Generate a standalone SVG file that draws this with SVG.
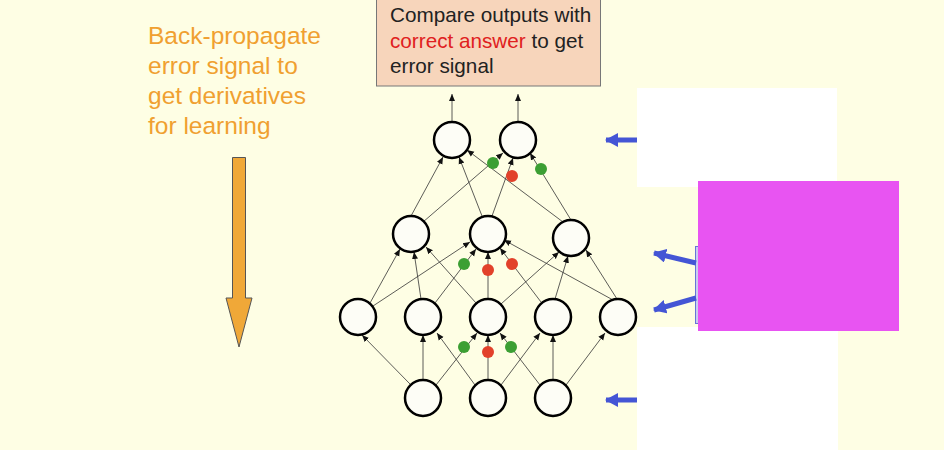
<svg xmlns="http://www.w3.org/2000/svg" width="944" height="450" viewBox="0 0 944 450">
<defs>
<marker id="ah" markerWidth="8" markerHeight="8" refX="7" refY="4" orient="auto" markerUnits="userSpaceOnUse"><path d="M0,1 L7,4 L0,7 z" fill="#111"/></marker>
<marker id="bh" markerWidth="14" markerHeight="14" refX="12" refY="7" orient="auto" markerUnits="userSpaceOnUse"><path d="M0,0 L13,7 L0,14 z" fill="#4455d5"/></marker>
</defs>
<style>
.n{fill:#fdfdf6;stroke:#000;stroke-width:2.5}
.e{stroke:#333;stroke-width:0.8;fill:none;marker-end:url(#ah)}
.g{fill:#3c9f33}.r{fill:#e2412a}
.b{stroke:#4455d5;stroke-width:5;fill:none;marker-end:url(#bh)}
.t{font-family:"Liberation Sans",Arial,sans-serif}
</style>
<rect width="944" height="450" fill="#fefee4"/>
<rect x="637" y="88" width="200" height="99" fill="#fff"/>
<rect x="637" y="327" width="201" height="123" fill="#fff"/>
<rect x="695.500" y="246.500" width="6" height="77" fill="#c8cdf0" stroke="#6674d8"/>
<rect x="698" y="181" width="201" height="150" fill="#e854f2"/>
<g id="box"><rect x="376.500" y="-1" width="224" height="87" fill="#f7d5bb" stroke="#777"/>
<text class="t" font-size="20.7" fill="#222"><tspan x="390" y="22">Compare outputs with</tspan><tspan x="390" y="48"><tspan fill="#e02020">correct answer</tspan> to get</tspan><tspan x="390" y="73">error signal</tspan></text></g>
<g id="label"><text class="t" font-size="24.5" fill="#f0a030"><tspan x="148" y="44">Back-propagate</tspan><tspan x="148" y="74">error signal to</tspan><tspan x="148" y="104">get derivatives</tspan><tspan x="148" y="134">for learning</tspan></text>
<path d="M232.500,157.500 H245.500 V298 H252 L239,347 L226,298 H232.500 Z" fill="#f0a838" stroke="#555"/></g>
<g id="connectors">
<line class="e" x1="452" y1="122" x2="452" y2="94"/><line class="e" x1="518" y1="122" x2="518" y2="94"/>
<line class="e" x1="411" y1="216" x2="443" y2="157"/><line class="e" x1="423" y1="222" x2="503" y2="153"/>
<line class="e" x1="482" y1="216" x2="459" y2="157"/><line class="e" x1="492" y1="216" x2="513" y2="158"/>
<line class="e" x1="563" y1="222" x2="467" y2="150"/><line class="e" x1="571" y1="220" x2="530" y2="153"/>
<line class="e" x1="370" y1="303" x2="400" y2="249"/><line class="e" x1="373" y1="306" x2="470" y2="242"/>
<line class="e" x1="421" y1="299" x2="414" y2="252"/><line class="e" x1="435" y1="303" x2="476" y2="249"/>
<line class="e" x1="476" y1="303" x2="426" y2="247"/><line class="e" x1="488" y1="299" x2="488" y2="252"/><line class="e" x1="501" y1="304" x2="559" y2="252"/>
<line class="e" x1="541" y1="302" x2="500" y2="248"/><line class="e" x1="555" y1="299" x2="568" y2="256"/>
<line class="e" x1="613" y1="300" x2="504" y2="240"/><line class="e" x1="617" y1="299" x2="586" y2="250"/>
<line class="e" x1="410" y1="384" x2="362" y2="335"/><line class="e" x1="423" y1="380" x2="423" y2="335"/><line class="e" x1="436" y1="385" x2="477" y2="333"/>
<line class="e" x1="475" y1="385" x2="437" y2="333"/><line class="e" x1="488" y1="380" x2="488" y2="335"/><line class="e" x1="501" y1="385" x2="540" y2="333"/>
<line class="e" x1="540" y1="385" x2="500" y2="333"/><line class="e" x1="553" y1="380" x2="553" y2="335"/><line class="e" x1="566" y1="385" x2="605" y2="333"/>
<line class="b" x1="637" y1="140" x2="606" y2="140"/><line class="b" x1="637" y1="400" x2="606" y2="400"/>
<line class="b" x1="696" y1="263" x2="654" y2="253"/><line class="b" x1="696" y1="298" x2="654" y2="310"/>
</g>
<g id="dots">
<circle class="g" cx="493" cy="163" r="6"/><circle class="g" cx="541" cy="169" r="6"/><circle class="r" cx="512" cy="176" r="6"/>
<circle class="g" cx="464" cy="264" r="6"/><circle class="r" cx="488" cy="270" r="6"/><circle class="r" cx="512" cy="264" r="6"/>
<circle class="g" cx="464" cy="347" r="6"/><circle class="r" cx="488" cy="352" r="6"/><circle class="g" cx="511" cy="347" r="6"/>
</g>
<g id="o1"><circle class="n" cx="452" cy="140" r="18"/></g><g id="o2"><circle class="n" cx="518" cy="140" r="18"/></g>
<g id="h21"><circle class="n" cx="411" cy="234" r="18"/></g><g id="h22"><circle class="n" cx="488" cy="234" r="18"/></g><g id="h23"><circle class="n" cx="571" cy="238" r="18"/></g>
<g id="h11"><circle class="n" cx="358" cy="317" r="18"/></g><g id="h12"><circle class="n" cx="423" cy="317" r="18"/></g><g id="h13"><circle class="n" cx="488" cy="317" r="18"/></g><g id="h14"><circle class="n" cx="553" cy="317" r="18"/></g><g id="h15"><circle class="n" cx="618" cy="317" r="18"/></g>
<g id="i1"><circle class="n" cx="423" cy="398" r="18"/></g><g id="i2"><circle class="n" cx="488" cy="398" r="18"/></g><g id="i3"><circle class="n" cx="553" cy="398" r="18"/></g>
</svg>
